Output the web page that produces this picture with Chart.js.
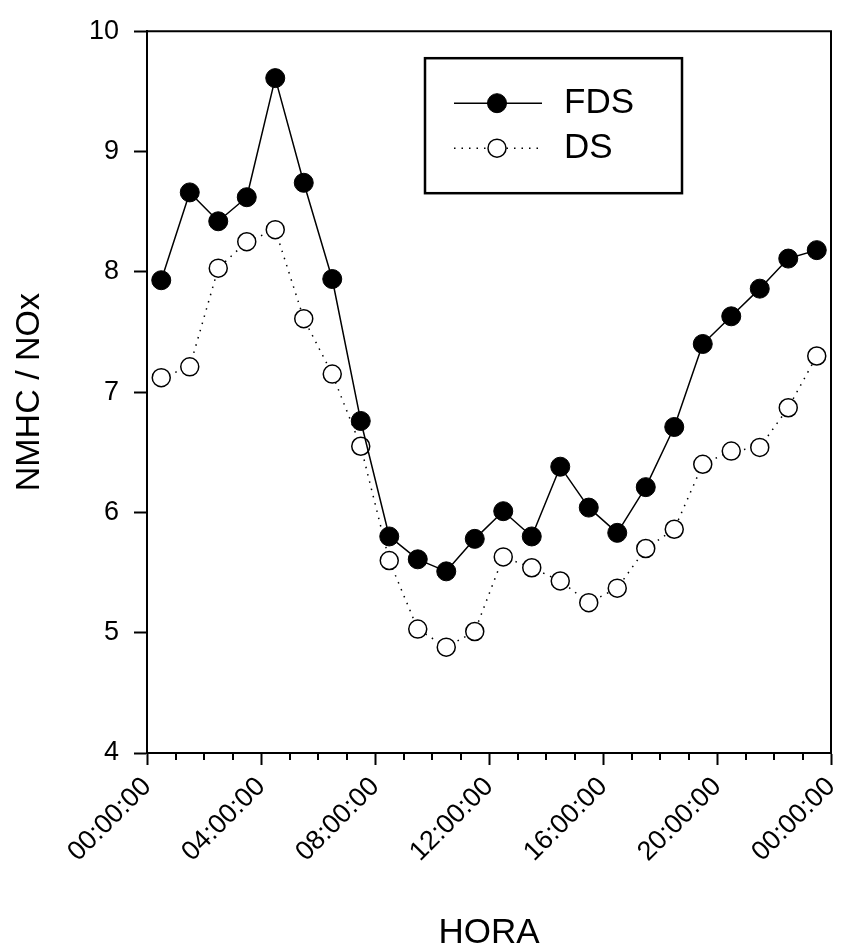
<!DOCTYPE html>
<html>
<head>
<meta charset="utf-8">
<script src="https://cdn.jsdelivr.net/npm/chart.js@4.4.1/dist/chart.umd.min.js"></script>
<style>
  html, body { margin: 0; padding: 0; background: #fff; }
  #wrap { width: 844px; height: 949px; position: relative; }
</style>
</head>
<body>
<div id="wrap"><canvas id="c" width="844" height="949"></canvas></div>
<script>
// ---- Data ----
const hours = [0.5,1.5,2.5,3.5,4.5,5.5,6.5,7.5,8.5,9.5,10.5,11.5,12.5,13.5,14.5,15.5,16.5,17.5,18.5,19.5,20.5,21.5,22.5,23.5];
const fdsValues = [7.93,8.66,8.42,8.62,9.61,8.74,7.94,6.76,5.80,5.61,5.51,5.78,6.01,5.80,6.38,6.04,5.83,6.21,6.71,7.40,7.63,7.86,8.11,8.18];
const dsValues  = [7.12,7.21,8.03,8.25,8.35,7.61,7.15,6.55,5.60,5.03,4.88,5.01,5.63,5.54,5.43,5.25,5.37,5.70,5.86,6.40,6.51,6.54,6.87,7.30];
const xTickLabels = ['00:00:00','04:00:00','08:00:00','12:00:00','16:00:00','20:00:00','00:00:00'];
const seriesNames = ['FDS','DS'];
const xTitle = 'HORA';
const yTitle = 'NMHC / NOx';

const FONT = "'Liberation Sans', Arial, sans-serif";

const fdsData = hours.map((h, i) => ({x: h, y: fdsValues[i]}));
const dsData  = hours.map((h, i) => ({x: h, y: dsValues[i]}));

// Frame, minor ticks and boxed legend
const decorPlugin = {
  id: 'decor',
  afterDraw(chart) {
    const ctx = chart.ctx;
    const a = chart.chartArea;
    const xs = chart.scales.x;
    ctx.save();
    ctx.strokeStyle = '#000';
    ctx.lineWidth = 2;
    // top and right frame lines
    ctx.beginPath();
    ctx.moveTo(a.left, a.top); ctx.lineTo(a.right, a.top); ctx.lineTo(a.right, a.bottom);
    ctx.stroke();
    // minor x ticks
    xs.ticks.forEach(t => {
      if (t.value % 4 !== 0) {
        const px = Math.round(xs.getPixelForValue(t.value));
        ctx.beginPath(); ctx.moveTo(px, a.bottom); ctx.lineTo(px, a.bottom + 7); ctx.stroke();
      }
    });
    // legend box
    const bx = a.left + 278, by = a.top + 27, bw = 257, bh = 135;
    ctx.lineWidth = 2.5;
    ctx.strokeRect(bx, by, bw, bh);
    const rows = [{ds: chart.data.datasets[0], y: by + 45}, {ds: chart.data.datasets[1], y: by + 90}];
    rows.forEach(r => {
      const d = r.ds;
      ctx.save();
      ctx.strokeStyle = d.borderColor;
      ctx.lineWidth = d.borderWidth;
      ctx.setLineDash(d.borderDash || []);
      ctx.beginPath(); ctx.moveTo(bx + 29, r.y); ctx.lineTo(bx + 117, r.y); ctx.stroke();
      ctx.setLineDash([]);
      ctx.beginPath(); ctx.arc(bx + 72, r.y, d.pointRadius, 0, Math.PI * 2);
      ctx.fillStyle = d.pointBackgroundColor; ctx.fill();
      ctx.lineWidth = d.pointBorderWidth; ctx.strokeStyle = d.pointBorderColor; ctx.stroke();
      ctx.restore();
      ctx.fillStyle = '#000';
      ctx.font = '35px ' + FONT;
      ctx.textBaseline = 'middle';
      ctx.textAlign = 'left';
      ctx.fillText(d.label, bx + 139, r.y);
    });
    ctx.restore();
  }
};

new Chart(document.getElementById('c'), {
  type: 'line',
  data: {
    datasets: [
      {
        label: seriesNames[0], data: fdsData,
        borderColor: '#000', borderWidth: 1.5, backgroundColor: '#000',
        pointRadius: 9.5, pointBackgroundColor: '#000', pointBorderColor: '#000', pointBorderWidth: 1,
        tension: 0, order: 0
      },
      {
        label: seriesNames[1], data: dsData,
        borderColor: '#000', borderWidth: 1.5, borderDash: [1.5, 6], backgroundColor: '#fff',
        pointRadius: 9, pointBackgroundColor: '#fff', pointBorderColor: '#000', pointBorderWidth: 1.5,
        tension: 0, order: 1
      }
    ]
  },
  options: {
    responsive: false,
    animation: false,
    devicePixelRatio: 1,
    layout: { padding: { left: 0, right: 13, top: 30, bottom: 0 } },
    plugins: { legend: { display: false }, tooltip: { enabled: false } },
    elements: { line: { borderJoinStyle: 'round' } },
    scales: {
      x: {
        type: 'linear', min: 0, max: 24,
        afterFit(s) { s.height = 196; s.paddingRight = 0; s.paddingLeft = 0; },
        border: { display: true, color: '#000', width: 2 },
        grid: {
          display: true, drawOnChartArea: false, drawTicks: true, tickLength: 12, tickWidth: 2,
          tickColor: c => (c.tick && c.tick.value % 4 === 0) ? '#000' : 'rgba(0,0,0,0)'
        },
        ticks: {
          stepSize: 1, autoSkip: false, maxRotation: 45, minRotation: 45, padding: 6,
          color: '#000', font: { family: FONT, size: 27 },
          callback: v => (v % 4 === 0) ? xTickLabels[v / 4] : ''
        },
        title: { display: true, text: xTitle, color: '#000', font: { family: FONT, size: 35, lineHeight: 0.9 }, padding: { top: 0, bottom: 0 } }
      },
      y: {
        type: 'linear', min: 4, max: 10,
        afterFit(s) { s.width = 147; },
        border: { display: true, color: '#000', width: 2 },
        grid: { display: true, drawOnChartArea: false, drawTicks: true, tickLength: 13, tickWidth: 2, tickColor: '#000' },
        ticks: { stepSize: 1, padding: 15, color: '#000', font: { family: FONT, size: 27 } },
        title: { display: true, text: yTitle, color: '#000', font: { family: FONT, size: 34, lineHeight: 1.2 }, padding: { top: 9, bottom: 0 } }
      }
    }
  },
  plugins: [decorPlugin]
});
</script>
</body>
</html>
